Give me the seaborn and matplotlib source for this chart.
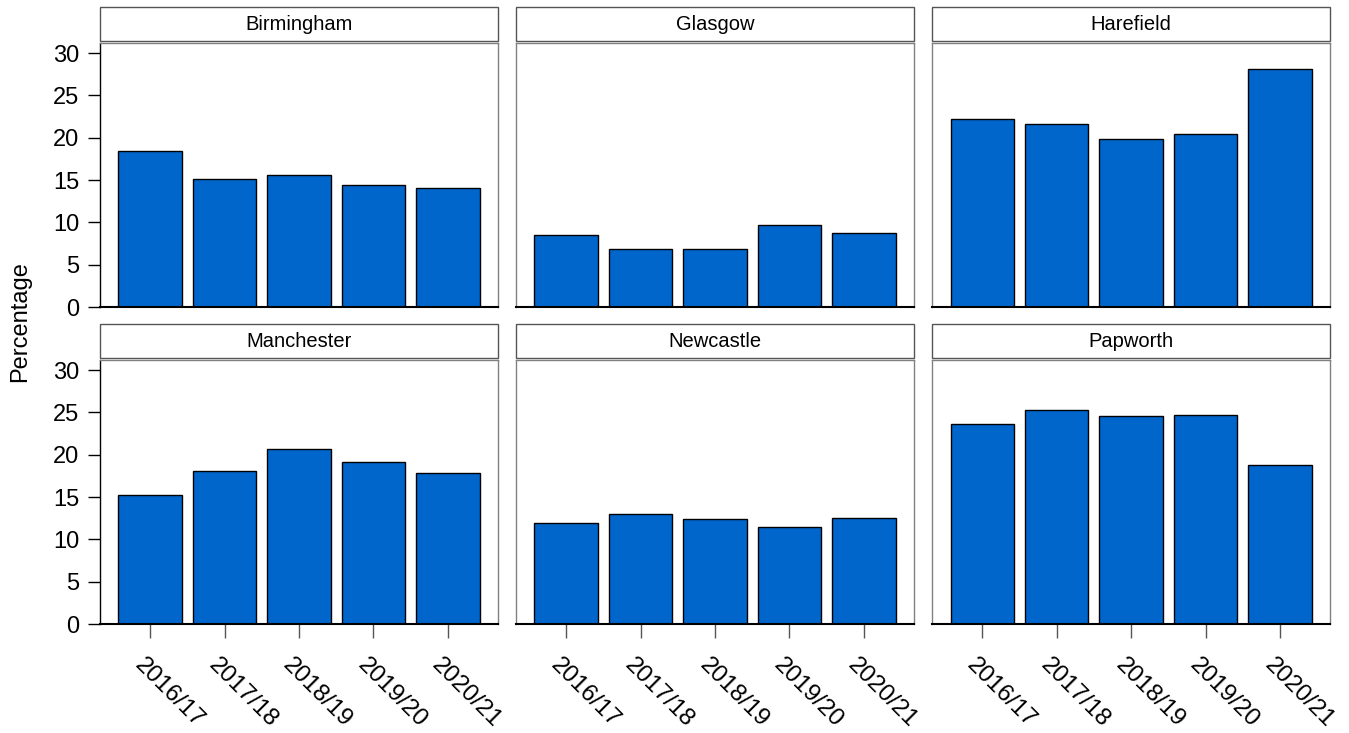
import pandas as pd
import seaborn as sns
import matplotlib.pyplot as plt
from matplotlib.patches import Rectangle
from matplotlib.transforms import ScaledTranslation

# values
years = ["2016/17", "2017/18", "2018/19", "2019/20", "2020/21"]
centres = ["Birmingham", "Glasgow", "Harefield", "Manchester", "Newcastle", "Papworth"]
birmingham = [18.4, 15.1, 15.6, 14.4, 14.1]
glasgow = [8.5, 6.9, 6.8, 9.7, 8.7]
harefield = [22.2, 21.6, 19.9, 20.4, 28.1]
manchester = [15.3, 18.1, 20.7, 19.2, 17.8]
newcastle = [11.9, 13.0, 12.4, 11.5, 12.5]
papworth = [23.6, 25.3, 24.6, 24.7, 18.8]

values = [birmingham, glasgow, harefield, manchester, newcastle, papworth]
rows = []
for c, v in zip(centres, values):
    for y, p in zip(years, v):
        rows.append({"Centre": c, "Year": y, "Percentage": p})
data = pd.DataFrame(rows)

sns.set_style("white", {"text.color": "black", "xtick.color": "black",
                        "ytick.color": "black", "axes.labelcolor": "black"})
plt.rcParams['font.family'] = ['Liberation Sans', 'DejaVu Sans']

g = sns.catplot(data=data, x="Year", y="Percentage", col="Centre", col_wrap=3,
                kind="bar", order=years, col_order=centres, color="#0066CC",
                saturation=1, width=0.85, errorbar=None, edgecolor="black",
                linewidth=1, height=3, aspect=1.5)
fig = g.figure
fig.set_size_inches(13.49, 7.33)
fig.subplots_adjust(left=0.0741, right=0.986, bottom=0.1487, top=0.9413,
                    wspace=0.0452, hspace=0.2008)
g.set_titles("")
g.set_axis_labels("", "")

for i, ax in enumerate(g.axes.flat):
    ax.set_ylim(0, 31.2)
    ax.set_xlim(-0.673, 4.673)
    ax.set_yticks([0, 5, 10, 15, 20, 25, 30])
    for s in ax.spines.values():
        s.set_visible(True)
        s.set_color("#808080")
        s.set_linewidth(1)
    ax.spines["bottom"].set_color("black")
    ax.spines["bottom"].set_linewidth(1.5)
    left_col = i % 3 == 0
    bottom_row = i >= 3
    if left_col:
        ax.spines["left"].set_color("black")
    ax.tick_params(axis="y", left=left_col, labelleft=left_col, length=9,
                   width=1, pad=6, labelsize=17, color="black",
                   labelcolor="black")
    ax.tick_params(axis="x", bottom=bottom_row, labelbottom=bottom_row,
                   length=10, width=1, pad=17, labelsize=17.5, color="#555555",
                   labelcolor="black")
    if bottom_row:
        for lab in ax.get_xticklabels():
            lab.set_rotation(-45)
            lab.set_ha("left")
            lab.set_va("center")
            lab.set_rotation_mode("anchor")
            lab.set_transform(lab.get_transform() +
                              ScaledTranslation(-9 / 72, 0, fig.dpi_scale_trans))
    # strip on top of each panel
    ax.add_patch(Rectangle((0, 1 + 2 / 264), 1, 34 / 264, transform=ax.transAxes,
                           facecolor="white", edgecolor="#555555", lw=1,
                           clip_on=False))
    ax.text(0.5, 1 + 19 / 264, centres[i], transform=ax.transAxes,
            ha="center", va="center", fontsize=14.5, color="black")

fig.text(20 / 1349, 1 - 322 / 733, "Percentage", rotation=90,
         ha="center", va="center", fontsize=17, color="black")

plt.savefig("out.png", dpi=100)
